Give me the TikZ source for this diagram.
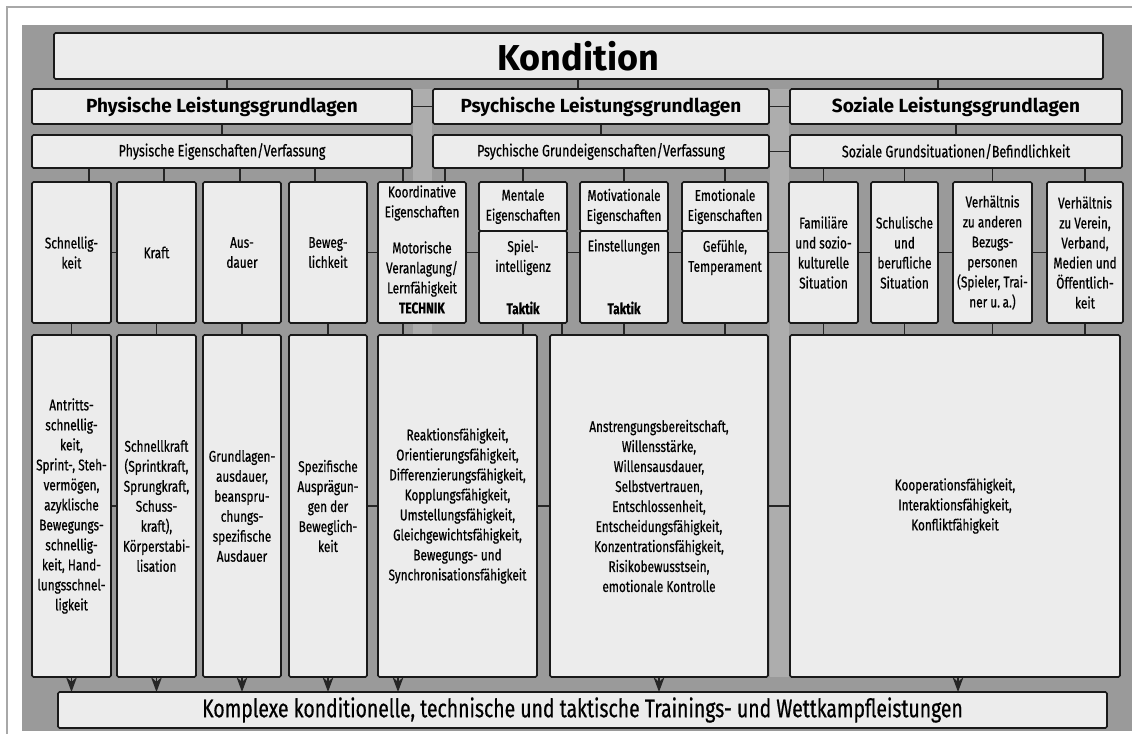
\documentclass[tikz,border=0pt]{standalone}
\usepackage{fontspec}
\setmainfont{Fira Sans}
\newfontfamily\narrowfont[FakeStretch=0.76, FakeBold=0.6]{Fira Sans}
\usetikzlibrary{arrows.meta, positioning, backgrounds}

\definecolor{bggray}{HTML}{9A9A9A}
\definecolor{gutter}{HTML}{ADADAD}
\definecolor{boxfill}{HTML}{ECECEC}
\definecolor{framegray}{HTML}{A8A8A8}

\newcommand{\bodysize}{\fontsize{15.5}{20}\selectfont}

\tikzset{
  box/.style={draw=black!90, line width=1.6pt, rounded corners=1.5pt, fill=boxfill,
    inner sep=0pt, outer sep=0pt, align=center, font=\narrowfont\bodysize},
  col/.style 2 args={box, minimum width=#1pt, minimum height=#2pt},
  head/.style={font=\bfseries\fontsize{19}{22}\selectfont},
  sub/.style={font=\narrowfont\fontsize{16.5}{19}\selectfont},
  txt/.style={inner sep=0pt, align=center, font=\narrowfont\bodysize},
  key/.style={txt, font=\narrowfont\bfseries\bodysize},
  link/.style={line width=1.6pt, black!85},
  arr/.style={link, -{Stealth[length=15pt, width=11pt]}},
}

\begin{document}
\begin{tikzpicture}[x=1pt, y=-1pt]
	\useasboundingbox (0,0) rectangle (1132,734);

	\node[col={1049}{46}, font=\bfseries\fontsize{36}{40}\selectfont] (kond) at (578.5,56) {Kondition};

	\node[col={380}{35}, head] (phys) at (222,106.5) {Physische Leistungsgrundlagen};
	\node[col={336}{35}, head] (psych) at (601,106.5) {Psychische Leistungsgrundlagen};
	\node[col={332}{35}, head] (soz) at (956,106.5) {Soziale Leistungsgrundlagen};

	\node[col={380}{33}, sub] (physE) at (222,151.5) {Physische Eigenschaften/Verfassung};
	\node[col={336}{33}, sub] (psychE) at (601,151.5) {Psychische Grundeigenschaften/Verfassung};
	\node[col={332}{33}, sub] (sozE) at (956,151.5) {Soziale Grundsituationen/Befindlichkeit};

	\node[col={79}{141}] (schn) at (71.5,252.5) {Schnellig-\\keit};
	\node[col={79}{141}] (kraft) at (156.5,252.5) {Kraft};
	\node[col={78}{141}] (ausd) at (242,252.5) {Aus-\\dauer};
	\node[col={78}{141}] (bew) at (328,252.5) {Beweg-\\lichkeit};
	\node[col={88}{141}] (koord) at (422,252.5) {};
	\node[col={88}{49}] (mentT) at (523,206.5) {Mentale\\Eigenschaften};
	\node[col={88}{92}] (ment) [below=0pt of mentT] {};
	\node[col={88}{49}] (motivT) at (624,206.5) {Motivationale\\Eigenschaften};
	\node[col={88}{92}] (motiv) [below=0pt of motivT] {};
	\node[col={86}{49}] (emotT) at (725,206.5) {Emotionale\\Eigenschaften};
	\node[col={86}{92}] (emot) [below=0pt of emotT] {};
	\node[col={69}{141}] (fam) at (823.5,252.5) {Familiäre\\und sozio-\\kulturelle\\Situation};
	\node[col={67}{141}] (schul) at (904.5,252.5) {Schulische\\und\\berufliche\\Situation};
	\node[col={79}{141}] (verh1) at (992.5,252.5) {Verhältnis\\zu anderen\\Bezugs-\\personen\\(Spieler, Trai-\\ner u.\,a.)};
	\node[col={76}{141}] (verh2) at (1085,252.5) {Verhältnis\\zu Verein,\\Verband,\\Medien und\\Öffentlich-\\keit};

	\node[txt] (koordT) at (422,203) {Koordinative\\Eigenschaften};
	\node[txt] (koordM) at (422,277.5) {Motorische\\Veranlagung/\\Lernfähigkeit\\\textbf{TECHNIK}};
	\node[txt] (mentS) at (523,257.5) {Spiel-\\intelligenz};
	\node[key] (mentK) at (523,308) {Taktik};
	\node[txt] (motivS) at (624,247) {Einstellungen};
	\node[key] (motivK) at (624,308) {Taktik};
	\node[txt] (emotS) at (725,257.5) {Gefühle,\\Temperament};

	\node[col={79}{342}] (d1) at (71.5,506) {Antritts-\\schnellig-\\keit,\\Sprint-, Steh-\\vermögen,\\azyklische\\Bewegungs-\\schnellig-\\keit, Hand-\\lungsschnel-\\ligkeit};
	\node[col={79}{342}] (d2) at (156.5,506) {Schnellkraft\\(Sprintkraft,\\Sprungkraft,\\Schuss-\\kraft),\\Körperstabi-\\lisation};
	\node[col={78}{342}] (d3) at (242,506) {Grundlagen-\\ausdauer,\\beanspru-\\chungs-\\spezifische\\Ausdauer};
	\node[col={78}{342}] (d4) at (328,506) {Spezifische\\Ausprägun-\\gen der\\Beweglich-\\keit};
	\node[col={159}{342}] (dkoord) at (457.5,506) {Reaktionsfähigkeit,\\Orientierungsfähigkeit,\\Differenzierungsfähigkeit,\\Kopplungsfähigkeit,\\Umstellungsfähigkeit,\\Gleichgewichtsfähigkeit,\\Bewegungs- und\\Synchronisationsfähigkeit};
	\node[col={218}{342}] (dpsych) at (659,506) {Anstrengungsbereitschaft,\\Willensstärke,\\Willensausdauer,\\Selbstvertrauen,\\Entschlossenheit,\\Entscheidungsfähigkeit,\\Konzentrationsfähigkeit,\\Risikobewusstsein,\\emotionale Kontrolle};
	\node[col={330}{342}] (dsoz) at (955,506) {Kooperationsfähigkeit,\\Interaktionsfähigkeit,\\Konfliktfähigkeit};

	\node[col={1049}{36}, font=\narrowfont\fontsize{25.5}{28}\selectfont] (komplex) at (582.5,710) {Komplexe konditionelle, technische und taktische Trainings- und Wettkampfleistungen};

	\begin{scope}[on background layer]
	\fill[white] (0,0) rectangle (1132,734);
	\draw[framegray, line width=2pt] (7,734) -- (7,7) -- (1132,7);
	\fill[bggray] (22,25) rectangle (1132,731);
	\fill[gutter] (413,89) rectangle (432,677);
	\fill[gutter] (770,89) rectangle (789,677);

	\draw[link] ([xshift=5pt]phys.north) -- ([xshift=5pt]phys.north |- kond.south);
	\draw[link] ([xshift=-23pt]psych.north) -- ([xshift=-23pt]psych.north |- kond.south);
	\draw[link] ([xshift=-18pt]soz.north) -- ([xshift=-18pt]soz.north |- kond.south);
	\draw[link] (phys.east) -- (psych.west);
	\draw[link] (psych.east) -- (soz.west);

	\draw[link] (phys) -- (physE);
	\draw[link] (psych) -- (psychE);
	\draw[link] (soz) -- (sozE);
	\draw[link] (psychE.east) -- (sozE.west);

	\draw[link] ([xshift=17.5pt]schn.north) -- ([xshift=17.5pt]schn.north |- physE.south);
	\draw[link] ([xshift=7.5pt]kraft.north) -- ([xshift=7.5pt]kraft.north |- physE.south);
	\draw[link] ([xshift=-2pt]ausd.north) -- ([xshift=-2pt]ausd.north |- physE.south);
	\draw[link] ([xshift=-13pt]bew.north) -- ([xshift=-13pt]bew.north |- physE.south);
	\draw[link] ([xshift=-19pt]koord.north) -- ([xshift=-19pt]koord.north |- physE.south);
	\draw[link] ([xshift=23pt]koord.north) -- ([xshift=23pt]koord.north |- psychE.south);
	\draw[link] (mentT.north) -- (mentT.north |- psychE.south);
	\draw[link] (motivT.north) -- (motivT.north |- psychE.south);
	\draw[link] (emotT.north) -- (emotT.north |- psychE.south);
	\draw[link] (fam.north) -- (fam.north |- sozE.south);
	\draw[link] (schul.north) -- (schul.north |- sozE.south);
	\draw[link] (verh1.north) -- (verh1.north |- sozE.south);
	\draw[link] (verh2.north) -- (verh2.north |- sozE.south);

	\draw[link] (schn.east) -- (kraft.west);
	\draw[link] (bew.east) -- (bew.east -| verh2.west);

	\draw[link] (schn) -- (d1);
	\draw[link] (kraft) -- (d2);
	\draw[link] (ausd) -- (d3);
	\draw[link] (bew) -- (d4);
	\draw[link] ([xshift=-19pt]koord.south) -- ([xshift=-19pt]koord.south |- dkoord.north);
	\draw[link] (ment.south) -- (ment.south |- dkoord.north);
	\draw[link] ([xshift=39pt]ment.south) -- ([xshift=39pt]ment.south |- dpsych.north);
	\draw[link] (motiv.south) -- (motiv.south |- dpsych.north);
	\draw[link] (emot.south) -- (emot.south |- dpsych.north);
	\draw[link] (fam.south) -- (fam.south |- dsoz.north);
	\draw[link] (schul.south) -- (schul.south |- dsoz.north);
	\draw[link] (verh1.south) -- (verh1.south |- dsoz.north);
	\draw[link] (verh2.south) -- (verh2.south |- dsoz.north);

	\draw[link] (d1.east) -- (d2.west);
	\draw[link] (d4.east) -- (dsoz.west |- d4.east);

	\draw[arr] (d1.south) -- (d1.south |- komplex.north);
	\draw[arr] (d2.south) -- (d2.south |- komplex.north);
	\draw[arr] (d3.south) -- (d3.south |- komplex.north);
	\draw[arr] (d4.south) -- (d4.south |- komplex.north);
	\draw[arr] ([xshift=-59.5pt]dkoord.south) -- ([xshift=-59.5pt]dkoord.south |- komplex.north);
	\draw[arr] (dpsych.south) -- (dpsych.south |- komplex.north);
	\draw[arr] ([xshift=3pt]dsoz.south) -- ([xshift=3pt]dsoz.south |- komplex.north);
	\end{scope}
\end{tikzpicture}
\end{document}
